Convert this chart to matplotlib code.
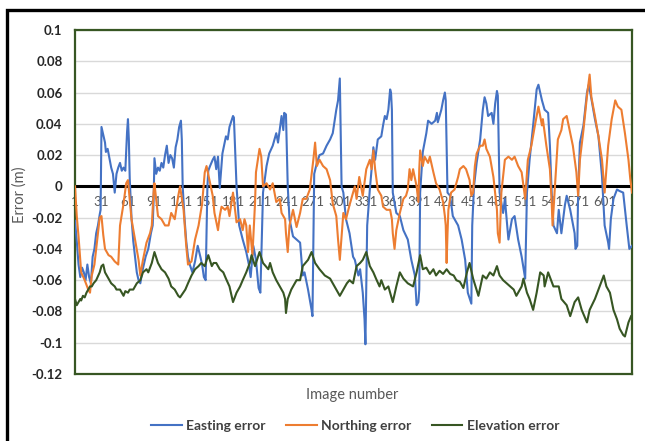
import matplotlib
matplotlib.use('Agg')
import matplotlib.pyplot as plt
from matplotlib.patches import Rectangle

plt.rcParams['font.family'] = ['Lato', 'DejaVu Sans']

# ---------------- data ----------------
east_img = [1, 3, 5, 7, 9, 11, 13, 15, 17, 19, 21, 23, 25, 27, 29, 30, 31, 33, 35, 36, 38, 40, 42, 44, 46, 48,
            50, 52, 54, 56, 58, 60, 61, 62, 63, 65, 67, 69, 71, 73, 75, 77, 79, 81, 84, 87, 89, 90, 91, 93, 95,
            97, 99, 101, 103, 105, 107, 109, 111, 113, 115, 117, 119, 121, 122, 123, 125, 127, 129, 131, 134,
            137, 140, 143, 145, 147, 149, 150, 151, 152, 154, 157, 159, 161, 163, 165, 168, 172, 174, 176, 180,
            181, 184, 187, 191, 195, 198, 200, 203, 206, 209, 211, 214, 218, 221, 225, 229, 231, 235, 237, 238,
            240, 242, 244, 248, 252, 256, 259, 261, 265, 269, 270, 272, 275, 278, 282, 286, 290, 293, 297, 299,
            301, 303, 305, 308, 312, 316, 318, 322, 324, 327, 329, 330, 332, 335, 337, 339, 341, 344, 348, 350,
            352, 354, 356, 358, 359, 360, 361, 365, 369, 373, 378, 382, 386, 388, 390, 391, 392, 395, 399, 401,
            405, 409, 411, 412, 416, 418, 420, 421, 423, 426, 429, 435, 439, 443, 446, 450, 451, 453, 456, 460,
            463, 465, 467, 469, 473, 475, 477, 479, 480, 482, 486, 488, 492, 496, 499, 503, 507, 511, 513, 516,
            520, 524, 526, 530, 533, 537, 539, 541, 543, 547, 549, 552, 556, 558, 562, 567, 568, 570, 571, 573,
            577, 581, 583, 586, 590, 594, 598, 601, 605, 606, 608, 611, 615, 618, 622, 626, 629, 632]
east_val = [-0.022, -0.035, -0.05, -0.058, -0.052, -0.055, -0.06, -0.05, -0.058, -0.062, -0.045, -0.04, -0.03,
            -0.025, -0.018, -0.015, 0.038, 0.033, 0.028, 0.022, 0.024, 0.018, 0.012, 0.008, -0.004, 0.008, 0.012,
            0.015, 0.01, 0.012, 0.01, 0.035, 0.043, 0.03, 0.005, -0.02, -0.035, -0.045, -0.055, -0.06, -0.062,
            -0.055, -0.05, -0.045, -0.04, -0.03, -0.025, -0.01, 0.018, 0.008, 0.012, 0.01, 0.015, 0.012, 0.02,
            0.026, 0.015, 0.02, 0.018, 0.012, 0.025, 0.03, 0.038, 0.042, 0.03, 0.0, -0.02, -0.035, -0.045, -0.05,
            -0.055, -0.048, -0.038, -0.045, -0.05, -0.058, -0.06, -0.03, 0.0, 0.01, 0.013, 0.017, 0.019, 0.011,
            0.019, -0.001, 0.021, 0.032, 0.030, 0.038, 0.045, 0.044, 0.0, -0.025, -0.034, -0.042, -0.05, -0.058,
            -0.038, -0.047, -0.065, -0.068, -0.004, 0.013, 0.021, 0.026, 0.034, 0.028, 0.045, 0.036, 0.047, 0.046,
            0.0, -0.021, -0.032, -0.034, -0.036, -0.057, -0.055, -0.066, -0.079, -0.083, 0.008, 0.015, 0.02, 0.021,
            0.026, 0.03, 0.034, 0.049, 0.055, 0.069, 0.0, -0.004, -0.021, -0.03, -0.045, -0.047, -0.057, -0.053,
            -0.068, -0.085, -0.101, -0.025, -0.002, 0.011, 0.025, 0.017, 0.030, 0.032, 0.039, 0.045, 0.043, 0.049,
            0.062, 0.060, 0.049, -0.004, -0.017, -0.019, -0.028, -0.034, -0.047, -0.057, -0.076, -0.074, -0.066,
            -0.004, 0.022, 0.034, 0.042, 0.040, 0.042, 0.047, 0.041, 0.049, 0.055, 0.060, 0.055, -0.004, -0.006,
            -0.019, -0.025, -0.034, -0.047, -0.068, -0.075, -0.025, 0.0, 0.015, 0.030, 0.049, 0.057, 0.053, 0.045,
            0.047, 0.040, 0.053, 0.061, 0.058, -0.004, -0.017, -0.008, -0.034, -0.021, -0.019, -0.034, -0.045,
            -0.059, -0.004, 0.017, 0.039, 0.062, 0.065, 0.055, 0.049, 0.047, 0.026, -0.004, -0.025, -0.030, -0.015,
            -0.030, -0.012, -0.006, -0.015, -0.030, -0.040, -0.038, -0.004, 0.028, 0.039, 0.060, 0.065, 0.056,
            0.043, 0.032, 0.0065, -0.025, -0.036, -0.040, -0.021, -0.008, -0.002, -0.003, -0.004, -0.025, -0.040,
            -0.038]

north_img = [1, 3, 5, 7, 8, 12, 16, 18, 20, 23, 25, 27, 29, 31, 33, 35, 39, 42, 46, 50, 52, 56, 59, 61, 65, 69,
             73, 75, 78, 82, 86, 88, 90, 91, 95, 99, 103, 107, 110, 114, 118, 120, 124, 127, 129, 133, 137, 141,
             145, 148, 150, 154, 157, 159, 163, 165, 167, 171, 174, 176, 180, 184, 188, 191, 193, 195, 197, 199,
             202, 205, 206, 210, 212, 214, 218, 222, 225, 229, 233, 235, 239, 240, 242, 244, 248, 252, 256, 259,
             263, 267, 271, 273, 275, 278, 282, 286, 290, 293, 297, 299, 301, 303, 305, 308, 312, 316, 318, 320,
             323, 327, 331, 335, 337, 339, 341, 344, 348, 350, 354, 358, 360, 361, 363, 365, 369, 373, 376, 378,
             380, 382, 384, 388, 390, 391, 392, 395, 397, 401, 403, 407, 410, 414, 418, 420, 421, 422, 423, 424,
             427, 431, 435, 437, 441, 444, 448, 450, 452, 454, 456, 460, 463, 465, 467, 471, 475, 479, 480, 482,
             484, 488, 492, 496, 499, 503, 507, 511, 514, 518, 522, 526, 530, 531, 535, 539, 541, 542, 545, 548,
             552, 554, 558, 562, 565, 569, 571, 573, 577, 581, 584, 586, 590, 594, 598, 601, 605, 609, 613, 616,
             620, 624, 628, 630, 632]
north_val = [0.0, -0.019, -0.032, -0.047, -0.055, -0.060, -0.066, -0.068, -0.057, -0.050, -0.040, -0.030, -0.020,
             -0.019, -0.031, -0.040, -0.044, -0.045, -0.048, -0.05, -0.025, -0.011, 0.002, 0.004, -0.021, -0.034,
             -0.047, -0.057, -0.047, -0.036, -0.030, -0.025, -0.004, 0.002, -0.019, -0.021, -0.025, -0.025, -0.017,
             -0.021, -0.006, 0.0, -0.015, -0.038, -0.05, -0.048, -0.034, -0.025, -0.011, 0.009, 0.013, 0.002,
             -0.006, -0.017, -0.028, -0.019, -0.013, -0.015, -0.013, -0.019, -0.004, -0.023, -0.021, -0.028, -0.021,
             -0.025, -0.042, -0.025, -0.044, -0.010, 0.009, 0.024, 0.019, 0.0, 0.002, -0.002, 0.002, -0.010, -0.008,
             -0.017, -0.021, -0.030, -0.042, -0.025, -0.015, -0.026, -0.017, -0.008, -0.008, -0.002, 0.017, 0.028,
             0.013, 0.017, 0.013, 0.011, 0.004, -0.011, -0.019, -0.034, -0.047, -0.032, -0.017, -0.021, -0.012,
             -0.004, 0.0, -0.008, 0.006, -0.006, 0.011, 0.017, 0.011, 0.023, 0.011, -0.002, -0.006, -0.013, -0.015,
             -0.015, -0.021, -0.030, -0.040, -0.028, -0.017, -0.008, -0.006, -0.002, 0.011, 0.004, 0.011, 0.0,
             -0.010, 0.011, 0.023, 0.013, 0.019, 0.015, 0.019, 0.009, 0.002, -0.002, -0.010, -0.019, -0.025, -0.049,
             -0.030, -0.015, -0.004, -0.002, 0.006, 0.011, 0.013, 0.011, 0.004, -0.006, -0.004, 0.013, 0.021, 0.026,
             0.026, 0.030, 0.024, 0.019, 0.006, -0.015, -0.030, -0.036, -0.004, 0.017, 0.019, 0.017, 0.019, 0.013,
             0.009, -0.008, 0.017, 0.026, 0.039, 0.051, 0.039, 0.043, 0.026, 0.011, -0.010, -0.025, 0.002, 0.030,
             0.036, 0.043, 0.045, 0.034, 0.026, 0.009, -0.006, 0.017, 0.036, 0.058, 0.0715, 0.057, 0.045, 0.032,
             0.017, -0.004, 0.026, 0.043, 0.055, 0.051, 0.049, 0.034, 0.017, 0.005, -0.004]

elev_img = [1, 3, 5, 7, 8, 10, 12, 14, 16, 18, 20, 22, 25, 29, 31, 33, 35, 39, 42, 46, 48, 52, 56, 58, 61, 63,
            67, 71, 75, 78, 82, 84, 88, 91, 95, 99, 103, 107, 110, 114, 118, 120, 126, 129, 133, 137, 141, 144,
            148, 152, 156, 158, 161, 165, 169, 172, 176, 180, 184, 188, 191, 195, 199, 201, 205, 210, 214, 220,
            222, 225, 229, 233, 237, 239, 240, 242, 246, 252, 256, 259, 265, 269, 273, 278, 284, 290, 295, 301,
            305, 309, 312, 316, 320, 324, 327, 331, 335, 339, 342, 346, 348, 352, 356, 360, 361, 365, 369, 373,
            378, 384, 388, 392, 395, 399, 403, 407, 410, 414, 418, 422, 426, 430, 433, 437, 441, 445, 448, 452,
            458, 463, 467, 471, 475, 479, 482, 486, 490, 494, 498, 501, 507, 509, 513, 516, 520, 524, 528, 532,
            533, 537, 543, 549, 552, 558, 562, 567, 571, 575, 581, 584, 590, 594, 600, 603, 607, 611, 615, 618,
            622, 624, 628, 631]
elev_val = [-0.072, -0.076, -0.074, -0.072, -0.073, -0.070, -0.071, -0.068, -0.066, -0.064, -0.064, -0.062,
            -0.060, -0.055, -0.051, -0.050, -0.055, -0.059, -0.062, -0.064, -0.066, -0.066, -0.070, -0.067, -0.068,
            -0.066, -0.066, -0.062, -0.060, -0.055, -0.053, -0.055, -0.049, -0.042, -0.049, -0.053, -0.055, -0.059,
            -0.064, -0.066, -0.070, -0.071, -0.066, -0.062, -0.057, -0.053, -0.051, -0.049, -0.051, -0.044, -0.051,
            -0.049, -0.049, -0.053, -0.055, -0.059, -0.064, -0.074, -0.068, -0.064, -0.060, -0.055, -0.049, -0.044,
            -0.051, -0.042, -0.049, -0.053, -0.049, -0.055, -0.060, -0.064, -0.068, -0.072, -0.081, -0.072, -0.066,
            -0.060, -0.060, -0.051, -0.047, -0.042, -0.049, -0.053, -0.057, -0.059, -0.064, -0.070, -0.066, -0.062,
            -0.060, -0.062, -0.051, -0.049, -0.047, -0.042, -0.051, -0.055, -0.059, -0.064, -0.060, -0.066, -0.064,
            -0.072, -0.074, -0.064, -0.055, -0.059, -0.062, -0.064, -0.055, -0.044, -0.053, -0.052, -0.056, -0.053,
            -0.057, -0.054, -0.056, -0.053, -0.056, -0.057, -0.060, -0.061, -0.065, -0.055, -0.049, -0.059, -0.070,
            -0.057, -0.059, -0.055, -0.057, -0.051, -0.057, -0.060, -0.062, -0.064, -0.066, -0.070, -0.064, -0.059,
            -0.068, -0.072, -0.079, -0.068, -0.055, -0.057, -0.064, -0.055, -0.064, -0.064, -0.072, -0.076, -0.083,
            -0.074, -0.071, -0.079, -0.087, -0.079, -0.072, -0.066, -0.057, -0.064, -0.068, -0.079, -0.085, -0.091,
            -0.095, -0.096, -0.087, -0.083]

x_tick_imgs = list(range(1, 602, 30))
x_tick_labels = [str(t) for t in x_tick_imgs]
y_ticks = [0.1, 0.08, 0.06, 0.04, 0.02, 0.0, -0.02, -0.04, -0.06, -0.08, -0.1, -0.12]
y_tick_labels = ['0.1', '0.08', '0.06', '0.04', '0.02', '0', '-0.02', '-0.04', '-0.06', '-0.08', '-0.1', '-0.12']
series_names = ['Easting error', 'Northing error', 'Elevation error']
series_colors = ['#4472C4', '#ED7D31', '#375623']

# ---------------- figure ----------------
W, H = 645, 441
fig = plt.figure(figsize=(W / 100, H / 100), dpi=100)
ax = fig.add_axes([75 / W, 1 - 374 / H, (632 - 75) / W, (374 - 30) / H])

lines = []
for xs, ys, name, col in zip([east_img, north_img, elev_img], [east_val, north_val, elev_val],
                             series_names, series_colors):
    ln, = ax.plot(xs, ys, color=col, lw=1.5, label=name, zorder=3, solid_joinstyle='round')
    lines.append(ln)

ax.set_xlim(1, 632)
ax.set_ylim(-0.12, 0.1)
ax.set_yticks(y_ticks)
ax.set_yticklabels(y_tick_labels)
ax.grid(axis='y', color='#D9D9D9', lw=1.0)
ax.set_axisbelow(True)
ax.axhline(0, color='black', lw=2.2, zorder=2)
for s in ax.spines.values():
    s.set_color('#375623')
    s.set_linewidth(1.6)
ax.tick_params(axis='y', length=0, pad=9, labelsize=9.5, labelcolor='#262626')
for lab in ax.get_yticklabels():
    lab.set_fontweight('bold')
ax.tick_params(axis='x', bottom=False, labelbottom=False)

# category labels sitting on the zero line
sec = ax.secondary_xaxis(0.12 / 0.22)
sec.set_alignment('bottom')
sec.set_xticks(x_tick_imgs)
sec.set_xticklabels(x_tick_labels)
sec.tick_params(axis='x', length=0, pad=7, labelsize=9.5, labelcolor='#595959')
for s in sec.spines.values():
    s.set_visible(False)

fig.text(352 / W, 1 - 395 / H, 'Image number', ha='center', va='center', fontsize=10.5, color='#595959')
fig.text(20 / W, 1 - 195 / H, 'Error (m)', ha='center', va='center', rotation=90, fontsize=10.5,
         color='#595959')

leg = fig.legend(handles=lines, loc='center', bbox_to_anchor=(355 / W, 1 - 426 / H), ncol=3, frameon=False,
                 fontsize=10, handlelength=2.2, handletextpad=0.3, columnspacing=1.5)
for t in leg.get_texts():
    t.set_color('#404040')
    t.set_fontweight('bold')

frame = Rectangle((6.7 / W, -0.3), 2.0, 1.3 - 10 / H, transform=fig.transFigure, fill=False,
                  edgecolor='black', lw=2.4, clip_on=False)
fig.add_artist(frame)

fig.savefig('out.png', dpi=100)
